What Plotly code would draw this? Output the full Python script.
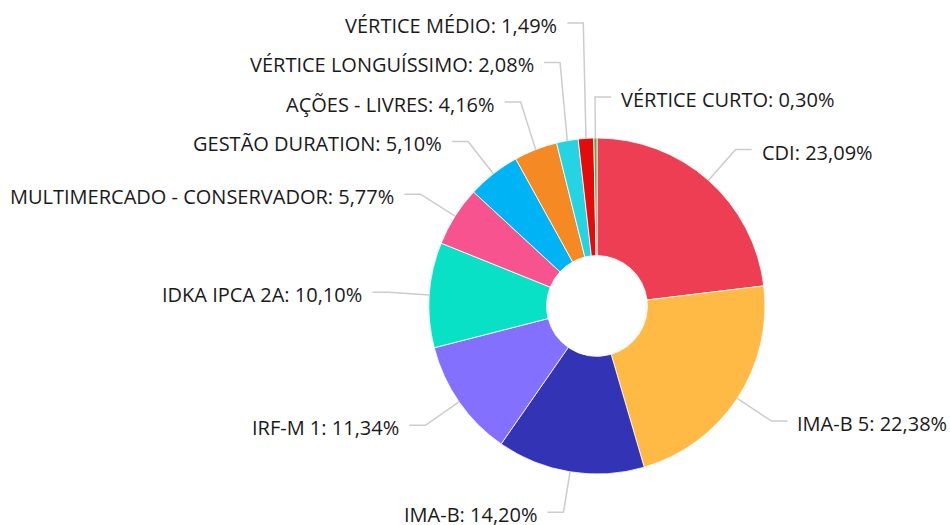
import math
import plotly.graph_objects as go

# ---- data ----
categories = ["CDI", "IMA-B 5", "IMA-B", "IRF-M 1", "IDKA IPCA 2A",
              "MULTIMERCADO - CONSERVADOR", "GESTÃO DURATION", "AÇÕES - LIVRES",
              "VÉRTICE LONGUÍSSIMO", "VÉRTICE MÉDIO", "VÉRTICE CURTO"]
shares = [23.09, 22.38, 14.20, 11.34, 10.10, 5.77, 5.10, 4.16, 2.08, 1.49, 0.30]
colors = ["#EE3E54", "#FFBA45", "#3333B5", "#8470FF", "#08E1C6",
          "#F7548F", "#00B3F4", "#F58A24", "#24D4E3", "#E30B0B", "#4CAF50"]

# ---- geometry (pixels) ----
W, H = 950, 525
CX, CY, R = 597, 306, 168
HOLE = 0.30
LABEL_R = 209
CROOK = 16
GAP = 8
SPACING = 39.5
FONT = dict(family="Open Sans", size=20, color="#1a1a1a")


def px(x):
    return x / W


def py(y):
    return 1 - y / H


fig = go.Figure(go.Pie(
    labels=categories, values=shares, sort=False, direction="clockwise",
    rotation=0, hole=HOLE, textinfo="none", hoverinfo="label+percent",
    marker=dict(colors=colors, line=dict(color="#ffffff", width=0.8)),
    domain=dict(x=[px(CX - R), px(CX + R)], y=[py(CY + R), py(CY - R)]),
    showlegend=False,
))

total = sum(shares)
cum = 0.0
items = []
for name, v in zip(categories, shares):
    mid = (cum + v / 2) / total * 2 * math.pi
    cum += v
    s, c = math.sin(mid), math.cos(mid)
    side = 1 if s > -0.01 else -1
    items.append(dict(name=name, v=v, s=s, c=c, side=side,
                      target=CY - LABEL_R * c))

# label collision avoidance: larger slices keep their place
for side in (1, -1):
    placed = []
    for it in sorted([i for i in items if i["side"] == side], key=lambda d: -d["v"]):
        cands = [it["target"]] + [p + d for p in placed for d in (SPACING, -SPACING)]
        ok = [cd for cd in cands if all(abs(cd - p) >= SPACING - 1e-6 for p in placed)]
        y = min(ok, key=lambda cd: abs(cd - it["target"]))
        it["y"] = y
        placed.append(y)

shapes, annots = [], []
for it in items:
    ex, ey = CX + R * it["s"], CY - R * it["c"]
    kx = CX + LABEL_R * it["s"]
    y = it["y"]
    endx = kx + it["side"] * CROOK
    path = f"M {px(ex)},{py(ey)} L {px(kx)},{py(y)} L {px(endx)},{py(y)}"
    shapes.append(dict(type="path", xref="paper", yref="paper", path=path,
                       line=dict(color="#cccccc", width=1.5)))
    txt = f"{it['name']}: " + f"{it['v']:.2f}".replace(".", ",") + "%"
    annots.append(dict(xref="paper", yref="paper", x=px(endx + it["side"] * GAP),
                       y=py(y + 2.5), text=txt, showarrow=False,
                       xanchor="left" if it["side"] > 0 else "right",
                       yanchor="middle", font=FONT))

fig.update_layout(width=W, height=H, margin=dict(l=0, r=0, t=0, b=0),
                  paper_bgcolor="white", plot_bgcolor="white",
                  shapes=shapes, annotations=annots)
fig.write_html("out.html", config={"displayModeBar": False},
               post_script="document.body.style.margin='0';document.body.style.overflow='hidden';")
